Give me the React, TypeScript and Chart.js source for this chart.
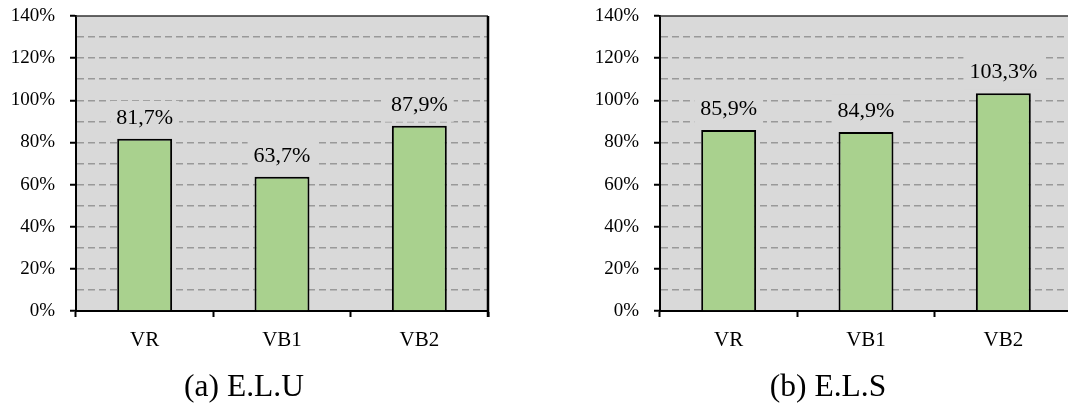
import React, { useEffect, useRef } from "react";
import { Chart, registerables } from "chart.js";

Chart.register(...registerables);

const categories = ["VR", "VB1", "VB2"];
const eluValues = [81.7, 63.7, 87.9];
const elsValues = [85.9, 84.9, 103.3];
const yMin = 0;
const yMax = 140;
const yStep = 10;
const yLabelStep = 20;
const titleA = "(a) E.L.U";
const titleB = "(b) E.L.S";

const FONT = '"Liberation Serif", "Times New Roman", serif';
const CW = 506;
const CH = 420;
const PLOT_BG = "#d9d9d9";

const fmt = (v: number) => v.toFixed(1).replace(".", ",") + "%";

const plotFrame = {
  id: "plotFrame",
  beforeDraw(chart: any) {
    const { ctx, chartArea: a } = chart;
    ctx.save();
    ctx.fillStyle = PLOT_BG;
    ctx.fillRect(a.left, a.top, a.right - a.left, a.bottom - a.top);
    ctx.restore();
  },
  afterDraw(chart: any) {
    const { ctx, chartArea: a } = chart;
    ctx.save();
    ctx.strokeStyle = "#333333";
    ctx.lineWidth = 1.5;
    ctx.beginPath();
    ctx.moveTo(a.left, a.top);
    ctx.lineTo(a.right, a.top);
    ctx.stroke();
    ctx.strokeStyle = "#000";
    ctx.lineWidth = 2.5;
    ctx.beginPath();
    ctx.moveTo(a.right, a.top);
    ctx.lineTo(a.right, a.bottom + 6);
    ctx.stroke();
    ctx.restore();
  },
};

const valueLabels = {
  id: "valueLabels",
  afterDatasetsDraw(chart: any) {
    const ctx = chart.ctx;
    const meta = chart.getDatasetMeta(0);
    const data = chart.data.datasets[0].data as number[];
    ctx.save();
    ctx.font = `22px ${FONT}`;
    ctx.textAlign = "center";
    ctx.textBaseline = "middle";
    meta.data.forEach((bar: any, i: number) => {
      const text = fmt(data[i]);
      const w = ctx.measureText(text).width + 12;
      const cy = bar.y - 21;
      ctx.fillStyle = PLOT_BG;
      ctx.fillRect(bar.x - w / 2, cy - 17, w, 34);
      ctx.fillStyle = "#000";
      ctx.fillText(text, bar.x, cy);
    });
    ctx.restore();
  },
};

function BarPanel({ values, title }: { values: number[]; title: string }) {
  const ref = useRef<HTMLCanvasElement | null>(null);
  useEffect(() => {
    let chart: any = null;
    let cancelled = false;
    const build = () => {
      if (cancelled || !ref.current) return;
      chart = new Chart(ref.current, {
        type: "bar",
        data: {
          labels: categories,
          datasets: [
            {
              data: values,
              backgroundColor: "#a9d18e",
              borderColor: "#000",
              borderWidth: 2,
              barPercentage: 0.4,
              categoryPercentage: 1,
            },
          ],
        },
        options: {
          responsive: false,
          animation: false,
          devicePixelRatio: 1,
          layout: { padding: { top: 16, left: 0, right: 18, bottom: 13.1 } },
          font: { family: FONT },
          plugins: {
            legend: { display: false },
            tooltip: { enabled: false },
            title: {
              display: true,
              text: title,
              position: "bottom",
              color: "#000",
              font: { family: FONT, size: 31.5, weight: "normal" },
              padding: 0,
            },
          },
          scales: {
            x: {
              offset: true,
              grid: {
                display: true,
                offset: true,
                drawOnChartArea: false,
                drawTicks: true,
                tickLength: 6,
                tickColor: "#000",
                tickWidth: 2,
              },
              border: { display: true, color: "#000", width: 2 },
              ticks: { color: "#000", font: { family: FONT, size: 21 }, padding: 11 },
              afterFit: (s: any) => {
                s.height = 58.1;
                s.paddingLeft = 0;
                s.paddingRight = 0;
              },
            },
            y: {
              min: yMin,
              max: yMax,
              ticks: {
                stepSize: yStep,
                autoSkip: false,
                padding: 15,
                color: "#000",
                font: { family: FONT, size: 19 },
                callback: (v: any) => (Number(v) % yLabelStep === 0 ? v + "%" : ""),
              },
              grid: {
                color: (c: any) =>
                  c.tick && (c.tick.value === yMin || c.tick.value === yMax) ? "rgba(0,0,0,0)" : "#999999",
                lineWidth: 1.5,
                drawTicks: true,
                tickLength: 6,
                tickWidth: 2,
                tickBorderDash: [],
                tickColor: (c: any) =>
                  c.tick && c.tick.value % yLabelStep === 0 ? "#000" : "rgba(0,0,0,0)",
              },
              border: { display: true, color: "#000", width: 2, dash: [7, 4] },
              afterFit: (s: any) => {
                s.width = 76;
                s.paddingTop = 0;
                s.paddingBottom = 0;
              },
            },
          },
        },
        plugins: [plotFrame, valueLabels],
      } as any);
    };
    const fonts: any = (document as any).fonts;
    if (fonts && fonts.load) {
      Promise.all([
        fonts.load('19px "Liberation Serif"'),
        fonts.load('31px "Liberation Serif"'),
      ])
        .catch(() => null)
        .then(() => build());
    } else {
      build();
    }
    return () => {
      cancelled = true;
      if (chart) chart.destroy();
    };
  }, [values, title]);
  return <canvas ref={ref} width={CW} height={CH} style={{ display: "block" }} />;
}

export default function App() {
  const wrap = (left: number): React.CSSProperties => ({
    position: "absolute",
    left,
    top: 0,
    width: CW,
    height: CH,
  });
  return (
    <div
      style={{
        position: "fixed",
        left: 0,
        top: 0,
        width: 1068,
        height: 420,
        overflow: "hidden",
        background: "#fff",
      }}
    >
      <div style={wrap(0)}>
        <BarPanel values={eluValues} title={titleA} />
      </div>
      <div style={wrap(584)}>
        <BarPanel values={elsValues} title={titleB} />
      </div>
    </div>
  );
}
